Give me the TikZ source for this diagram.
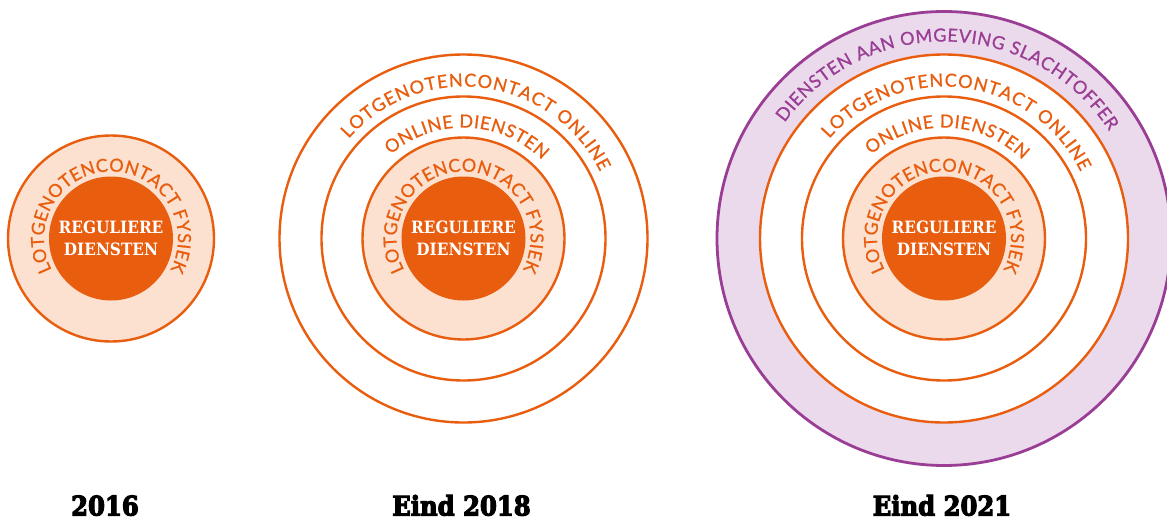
\documentclass[tikz,border=0pt]{standalone}
\usepackage{fontspec}
\usetikzlibrary{decorations.text}
\newfontfamily\ringfont[FakeBold=0.9]{Lato}
\newfontfamily\corefont{DejaVu Serif Condensed}
\newfontfamily\yearfont[FakeBold=4]{DejaVu Serif Condensed Bold}
\definecolor{brandorange}{HTML}{E95D0F}
\definecolor{peach}{HTML}{FCE1D0}
\definecolor{plum}{HTML}{9A3D95}
\definecolor{lilac}{HTML}{EBDAEC}

% text set along an arc: centre, radius, start angle, end angle, colour, text
\newcommand\arclabel[6]{%
  \path[decorate, decoration={text along path, text align={fit to path},
      text color=#5, text={|\ringfont\fontsize{18}{22}\selectfont|#6}}]
    ([shift={(#3:#2)}]#1) arc[start angle=#3, end angle=#4, radius=#2];}

\tikzset{
  ring/.style={draw=brandorange, line width=2.4pt},
  outerring/.style={draw=plum, fill=lilac, line width=2.8pt},
  core/.style={circle, fill=brandorange, minimum size=124, inner sep=0pt,
    text=white, align=center,
    font=\corefont\bfseries\fontsize{17}{22}\selectfont},
  yearlabel/.style={anchor=base, inner sep=0pt,
    font=\yearfont\fontsize{27}{30}\selectfont}
}

\begin{document}
\begin{tikzpicture}[x=1pt, y=1pt]
  \clip (0,0) rectangle (1167,-519);
  \fill[white] (0,0) rectangle (1167,-519);

  \coordinate (c1) at (111,-238.5);
  \coordinate (c2) at (463.5,-238.5);
  \coordinate (c3) at (944,-238.5);

  % 2016
  \draw[ring, fill=peach] (c1) circle[radius=103];
  \node[core] (core1) at (c1) {REGULIERE\\DIENSTEN};
  \arclabel{c1}{67}{208}{-28}{brandorange}{LOTGENOTENCONTACT FYSIEK}

  % eind 2018
  \draw[ring, fill=white] (c2) circle[radius=184];
  \draw[ring, fill=white] (c2) circle[radius=142];
  \draw[ring, fill=peach] (c2) circle[radius=101];
  \node[core] (core2) at (c2) {REGULIERE\\DIENSTEN};
  \arclabel{c2}{67}{208}{-28}{brandorange}{LOTGENOTENCONTACT FYSIEK}
  \arclabel{c2}{111}{131}{45}{brandorange}{ONLINE DIENSTEN}
  \arclabel{c2}{152}{139}{26}{brandorange}{LOTGENOTENCONTACT ONLINE}

  % eind 2021
  \draw[outerring] (c3) circle[radius=227];
  \draw[ring, fill=white] (c3) circle[radius=184];
  \draw[ring, fill=white] (c3) circle[radius=142];
  \draw[ring, fill=peach] (c3) circle[radius=101];
  \node[core] (core3) at (c3) {REGULIERE\\DIENSTEN};
  \arclabel{c3}{67}{208}{-28}{brandorange}{LOTGENOTENCONTACT FYSIEK}
  \arclabel{c3}{111}{131}{45}{brandorange}{ONLINE DIENSTEN}
  \arclabel{c3}{152}{139}{26}{brandorange}{LOTGENOTENCONTACT ONLINE}
  \arclabel{c3}{197}{144}{33}{plum}{DIENSTEN AAN OMGEVING SLACHTOFFER}

  % years
  \node[yearlabel] (y1) at (105,-515.5) {2016};
  \node[yearlabel] (y2) at (461.5,-515.5) {Eind 2018};
  \node[yearlabel] (y3) at (942,-515.5) {Eind 2021};
\end{tikzpicture}
\end{document}
